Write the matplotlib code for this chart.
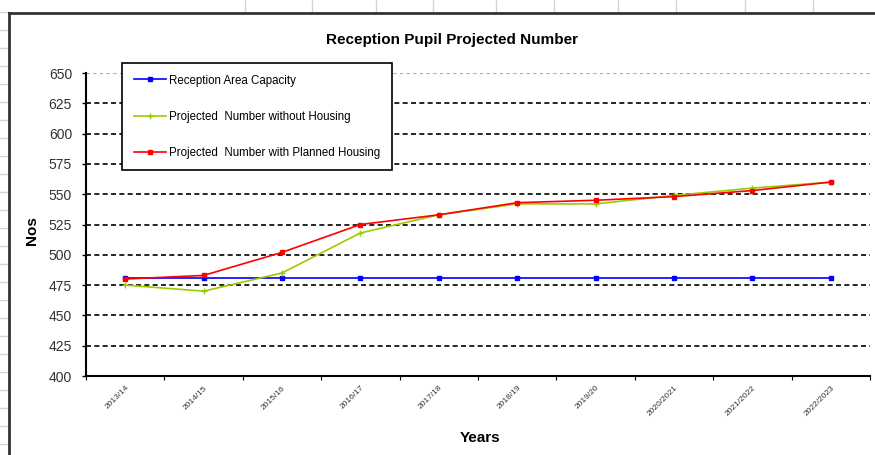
import matplotlib.pyplot as plt
from matplotlib.lines import Line2D

plt.rcParams['font.family'] = ['Liberation Sans', 'DejaVu Sans']

years = ['2013/14', '2014/15', '2015/16', '2016/17', '2017/18',
         '2018/19', '2019/20', '2020/2021', '2021/2022', '2022/2023']
capacity = [481, 481, 481, 481, 481, 481, 481, 481, 481, 481]
without_housing = [475, 470, 485, 518, 533, 542, 542, 549, 555, 560]
with_housing = [480, 483, 502, 525, 533, 543, 545, 548, 553, 560]
yticks = [400, 425, 450, 475, 500, 525, 550, 575, 600, 625, 650]

fig = plt.figure(figsize=(8.75, 4.55), dpi=100)

# spreadsheet cells around the chart object
for x in [245, 312, 376, 433, 496, 554, 618, 676, 745, 813]:
    fig.add_artist(Line2D([x / 875, x / 875], [1, 1 - 12 / 455], color='#d4d4d4', lw=1))
for y in range(12, 450, 18):
    fig.add_artist(Line2D([0, 8 / 875], [1 - y / 455, 1 - y / 455], color='#d4d4d4', lw=1))
fig.add_artist(Line2D([9 / 875, 9 / 875], [0, 1 - 13 / 455], color='#333333', lw=2))
fig.add_artist(Line2D([9 / 875, 1], [1 - 13 / 455, 1 - 13 / 455], color='#333333', lw=2))

ax = fig.add_axes([86 / 875, 79 / 455, 784 / 875, 303 / 455])
x = list(range(len(years)))

for v in yticks[1:-1]:
    ax.axhline(v, color='black', lw=1.2, ls=(0, (3, 2)), zorder=1)
ax.axhline(650, color='#b0b0b0', lw=0.8, ls=(0, (3, 3)), zorder=1)

ax.plot(x, capacity, color='#0000ff', lw=1.2, marker='s', ms=3,
        label='Reception Area Capacity', zorder=3)
ax.plot(x, without_housing, color='#99cc00', lw=1.2, marker='+', ms=4, mew=1,
        label='Projected  Number without Housing', zorder=4)
ax.plot(x, with_housing, color='#ff0000', lw=1.2, marker='s', ms=3.5,
        label='Projected  Number with Planned Housing', zorder=5)

ax.set_xlim(-0.5, len(years) - 0.5)
ax.set_ylim(400, 650)
ax.set_yticks(yticks)
ax.set_yticklabels([str(v) for v in yticks], fontsize=10, color='#333333')
ax.tick_params(axis='y', length=3, width=1, direction='out', pad=7)
ax.set_xticks(x)
ax.set_xticklabels(years, rotation=45, ha='right', rotation_mode='anchor',
                   fontsize=6, color='#333333')
ax.set_xticks([i - 0.5 for i in range(len(years) + 1)], minor=True)
ax.tick_params(axis='x', which='major', length=0, pad=6)
ax.tick_params(axis='x', which='minor', length=3, width=0.8)

for s in ['top', 'right']:
    ax.spines[s].set_visible(False)
ax.spines['left'].set_linewidth(1.5)
ax.spines['bottom'].set_linewidth(1.5)

ax.set_xlabel('Years', fontsize=11, fontweight='bold', va='center')
ax.xaxis.set_label_coords((480 - 86) / 784, (376 - 438) / 303)
ax.set_ylabel('Nos', fontsize=11, fontweight='bold', va='center')
ax.yaxis.set_label_coords((32 - 86) / 784, (376 - 231) / 303)
fig.text(452 / 875, 1 - 40 / 455, 'Reception Pupil Projected Number',
         fontsize=11, fontweight='bold', ha='center', va='center')

leg = ax.legend(loc='upper left', bbox_to_anchor=(122 / 875, 1 - 63 / 455),
                bbox_transform=fig.transFigure, borderaxespad=0, fontsize=8.3,
                labelspacing=2.1, handlelength=2.8, handletextpad=0.3,
                borderpad=1.0, fancybox=False, framealpha=1, edgecolor='black')
leg.get_frame().set_linewidth(1.2)

fig.savefig('out.png', dpi=100)
